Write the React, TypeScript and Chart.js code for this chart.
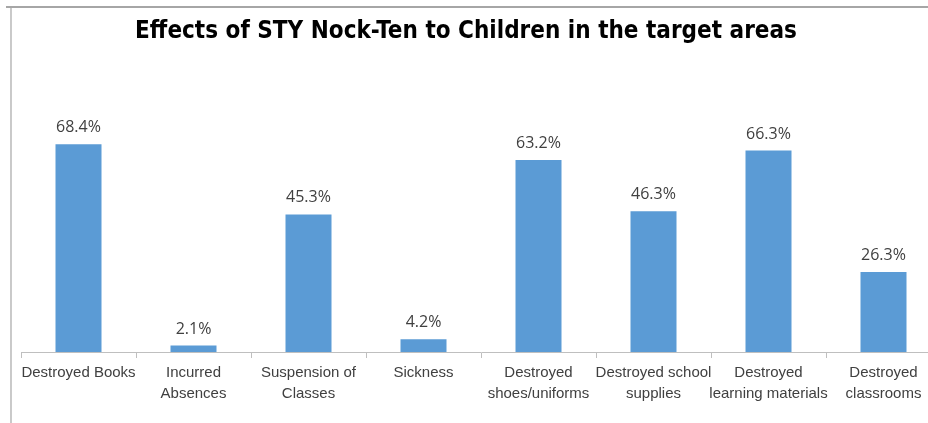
import React, { useEffect, useRef } from "react";
import { Chart, registerables } from "chart.js";

Chart.register(...registerables);

const TITLE = "Effects of STY Nock-Ten to Children in the target areas";
const CATEGORIES: string[][] = [
  ["Destroyed Books"],
  ["Incurred", "Absences"],
  ["Suspension of", "Classes"],
  ["Sickness"],
  ["Destroyed", "shoes/uniforms"],
  ["Destroyed school", "supplies"],
  ["Destroyed", "learning materials"],
  ["Destroyed", "classrooms"],
];
const VALUES: number[] = [68.4, 2.1, 45.3, 4.2, 63.2, 46.3, 66.3, 26.3];
const BAR_COLOR = "#5B9BD5";

const CANVAS_W = 960;
const CANVAS_H = 423;

const decorPlugin = {
  id: "decor",
  beforeDraw(chart: any) {
    const ctx = chart.ctx;
    ctx.save();
    ctx.fillStyle = "#ffffff";
    ctx.fillRect(0, 0, chart.width, chart.height);
    // frame (top and left edges)
    ctx.strokeStyle = "#a6a6a6";
    ctx.lineWidth = 2;
    ctx.beginPath();
    ctx.moveTo(6, 7);
    ctx.lineTo(chart.width, 7);
    ctx.stroke();
    ctx.lineWidth = 1.2;
    ctx.beginPath();
    ctx.moveTo(11, 7);
    ctx.lineTo(11, chart.height);
    ctx.stroke();
    // title
    const family = '"Liberation Sans Narrow", "DejaVu Sans Condensed", "Liberation Sans", sans-serif';
    let size = 26;
    ctx.font = `bold ${size}px ${family}`;
    const w = ctx.measureText(TITLE).width;
    size = Math.min(30, (size * 662) / w);
    ctx.font = `bold ${size}px ${family}`;
    ctx.fillStyle = "#000000";
    ctx.textAlign = "center";
    ctx.textBaseline = "alphabetic";
    ctx.fillText(TITLE, 466, 38);
    ctx.restore();
  },
  afterDatasetsDraw(chart: any) {
    const ctx = chart.ctx;
    const meta = chart.getDatasetMeta(0);
    ctx.save();
    ctx.font = '16px "Open Sans", "Liberation Sans", sans-serif';
    ctx.fillStyle = "#404040";
    ctx.textAlign = "center";
    ctx.textBaseline = "alphabetic";
    meta.data.forEach((bar: any, i: number) => {
      ctx.fillText(VALUES[i].toFixed(1) + "%", bar.x, bar.y - 12);
    });
    ctx.restore();
  },
};

export default function App() {
  const ref = useRef<HTMLCanvasElement | null>(null);
  useEffect(() => {
    if (!ref.current) return;
    const chart = new Chart(ref.current, {
      type: "bar",
      data: {
        labels: CATEGORIES,
        datasets: [
          {
            data: VALUES,
            backgroundColor: BAR_COLOR,
            borderWidth: 0,
            categoryPercentage: 1,
            barPercentage: 0.4,
          },
        ],
      },
      options: {
        responsive: false,
        animation: false,
        devicePixelRatio: 1,
        layout: { padding: { top: 109, left: 21, right: 19, bottom: 0 } },
        plugins: {
          legend: { display: false },
          title: { display: false },
          tooltip: { enabled: false },
        },
        scales: {
          x: {
            offset: true,
            grid: {
              offset: true,
              drawOnChartArea: false,
              drawTicks: true,
              tickLength: 6,
              color: "#bfbfbf",
            },
            border: { display: true, color: "#bfbfbf", width: 1 },
            ticks: {
              color: "#404040",
              padding: 4,
              maxRotation: 0,
              autoSkip: false,
              font: { family: '"Liberation Sans", Arial, sans-serif', size: 15, lineHeight: 1.4 },
            },
            afterFit(scale: any) {
              scale.height = 71;
            },
          },
          y: {
            display: false,
            min: 0,
            max: 80,
          },
        },
      },
      plugins: [decorPlugin],
    });
    return () => chart.destroy();
  }, []);
  return (
    <div
      style={{
        position: "fixed",
        left: 0,
        top: 0,
        width: 928,
        height: 423,
        overflow: "hidden",
        background: "#fff",
      }}
    >
      <canvas
        ref={ref}
        width={CANVAS_W}
        height={CANVAS_H}
        style={{ display: "block", width: CANVAS_W, height: CANVAS_H }}
      />
    </div>
  );
}
